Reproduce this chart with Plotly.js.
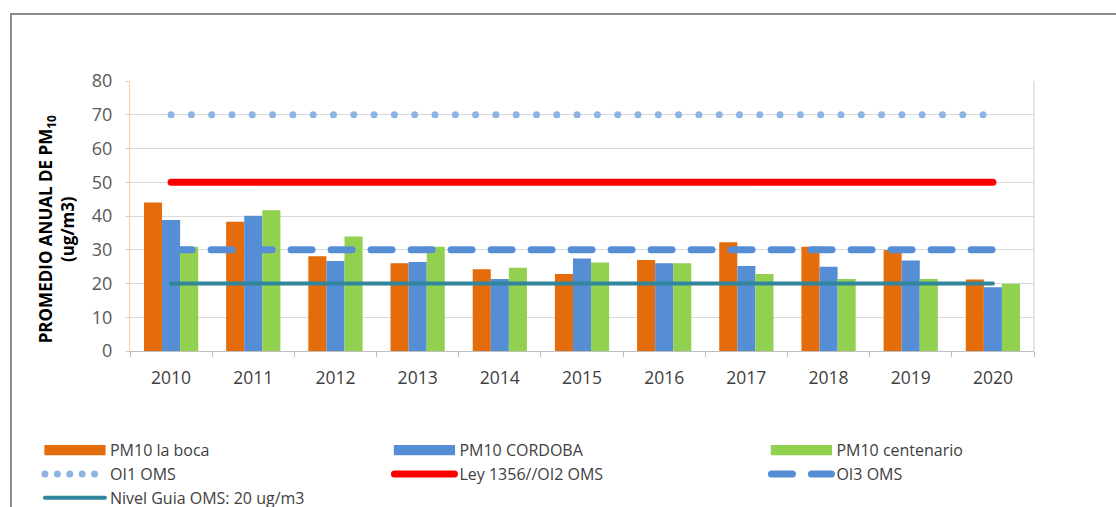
<!DOCTYPE html>
<html><head><meta charset="utf-8">
<script src="https://cdn.plot.ly/plotly-3.0.1.min.js"></script>
<style>
body{margin:0;background:#fff;overflow:hidden;}
#wrap{position:absolute;left:10px;top:13px;width:1106px;height:494px;border-left:2px solid #8c8c8c;border-top:2px solid #8c8c8c;}
#chart{width:1104px;height:492px;}
.scatterlayer path.js-line, .infolayer path.js-line{stroke-linecap:round;}
</style></head>
<body><div id="wrap"><div id="chart"></div></div>
<script>
const years = ['2010','2011','2012','2013','2014','2015','2016','2017','2018','2019','2020'];
const laBoca = [44, 38.3, 28.1, 26.0, 24.2, 22.8, 27.0, 32.2, 30.9, 29.9, 21.2];
const cordoba = [38.8, 40.1, 26.7, 26.4, 21.3, 27.4, 26.0, 25.2, 25.0, 26.8, 18.9];
const centenario = [30.9, 41.7, 33.9, 30.9, 24.7, 26.2, 26.0, 22.8, 21.3, 21.3, 19.9];
const oi1 = [70,70,70,70,70,70,70,70,70,70,70];
const ley1356 = [50,50,50,50,50,50,50,50,50,50,50];
const oi3 = [30,30,30,30,30,30,30,30,30,30,30];
const nivelGuia = [20,20,20,20,20,20,20,20,20,20,20];
const yTicks = [0,10,20,30,40,50,60,70,80];
const barNames = ['PM10 la boca','PM10 CORDOBA','PM10 centenario'];

const traces = [
  {type:'bar', name:barNames[0], x:years, y:laBoca, marker:{color:'#E46C0A'}, legend:'legend'},
  {type:'bar', name:barNames[1], x:years, y:cordoba, marker:{color:'#558ED5'}, legend:'legend2'},
  {type:'bar', name:barNames[2], x:years, y:centenario, marker:{color:'#92D050'}, legend:'legend3'},
  {type:'scatter', mode:'lines', name:'OI1 OMS', x:years, y:oi1, line:{color:'#8DB4E2', width:7, dash:'0px,20.3px'}, legend:'legend'},
  {type:'scatter', mode:'lines', name:'Ley 1356//OI2 OMS', x:years, y:ley1356, line:{color:'#FF0000', width:7}, legend:'legend2'},
  {type:'scatter', mode:'lines', name:'OI3 OMS', x:years, y:oi3, line:{color:'#558ED5', width:7, dash:'21px,19px'}, legend:'legend3'},
  {type:'scatter', mode:'lines', name:'Nivel Guia OMS: 20 ug/m3', x:years, y:nivelGuia, line:{color:'#31859C', width:4}, legend:'legend'}
];

function leg(x){
  return {orientation:'v', xref:'paper', x:x, xanchor:'left', yref:'container', y:0.15, yanchor:'top',
    font:{size:16, color:'#404040', family:'"Open Sans", sans-serif'}, itemwidth:60, tracegroupgap:0,
    traceorder:'normal', bgcolor:'rgba(0,0,0,0)', borderwidth:0};
}

const pad = '\u00a0\u00a0\u00a0\u00a0\u00a0\u00a0';
const layout = {
  width:1104, height:492,
  margin:{l:118, r:82, t:66, b:156},
  paper_bgcolor:'#fff', plot_bgcolor:'#fff',
  font:{family:'"Open Sans", sans-serif', color:'#404040'},
  barmode:'group', bargap:0.34, bargroupgap:0,
  showlegend:true,
  legend:leg(-0.0996), legend2:leg(0.287), legend3:leg(0.704),
  xaxis:{type:'category', showgrid:false, showline:true, linecolor:'#BFBFBF', linewidth:1,
    ticks:'outside', tickson:'boundaries', ticklen:5, tickcolor:'#BFBFBF', ticklabelstandoff:11,
    tickfont:{size:17.5, color:'#404040'}, zeroline:false},
  yaxis:{range:[0,80], tickvals:yTicks, showgrid:true, gridcolor:'#D9D9D9', gridwidth:1,
    showline:true, linecolor:'#F8CBAD', linewidth:1, ticks:'outside', ticklen:4, tickcolor:'#F8CBAD',
    ticklabelstandoff:9,
    tickfont:{size:18, color:'#595959'}, zeroline:false,
    title:{text:'<b>PROMEDIO ANUAL DE PM<sub>10</sub>' + pad + '<br>(ug/m3)' + pad + '</b>', font:{size:17, color:'#000'}, standoff:12}},
  shapes:[{type:'line', xref:'paper', yref:'paper', x0:1, x1:1, y0:0, y1:1, line:{color:'#D0D0D0', width:1}}]
};

function fixLegend(){
  // widen the small square legend symbols of the bar series into bars like the original legend
  document.querySelectorAll('.infolayer path').forEach(function(p){
    if(p.classList.contains('js-line')) return;
    var d = (p.getAttribute('d') || '').replace(/\s/g,'');
    if(d.indexOf('M6,6H-6V-6H6Z') === 0){
      var t = p.getAttribute('transform') || '';
      if(t.indexOf('scale(5.1') < 0){
        p.setAttribute('transform', t + ' scale(5.1,0.85)');
      }
    }
  });
  document.querySelectorAll('.infolayer g.traces').forEach(function(g){
    var txt = g.querySelector('text.legendtext');
    if(txt && txt.textContent === 'OI1 OMS'){
      var l = g.querySelector('path.js-line');
      if(l){ l.style.strokeDasharray = '0px,12.4px'; }
    }
  });
}
const gd = document.getElementById('chart');
Plotly.newPlot(gd, traces, layout, {displayModeBar:false, staticPlot:true}).then(function(){
  fixLegend();
  gd.on('plotly_afterplot', fixLegend);
  setTimeout(fixLegend, 50);
  setTimeout(fixLegend, 300);
});
</script></body></html>
